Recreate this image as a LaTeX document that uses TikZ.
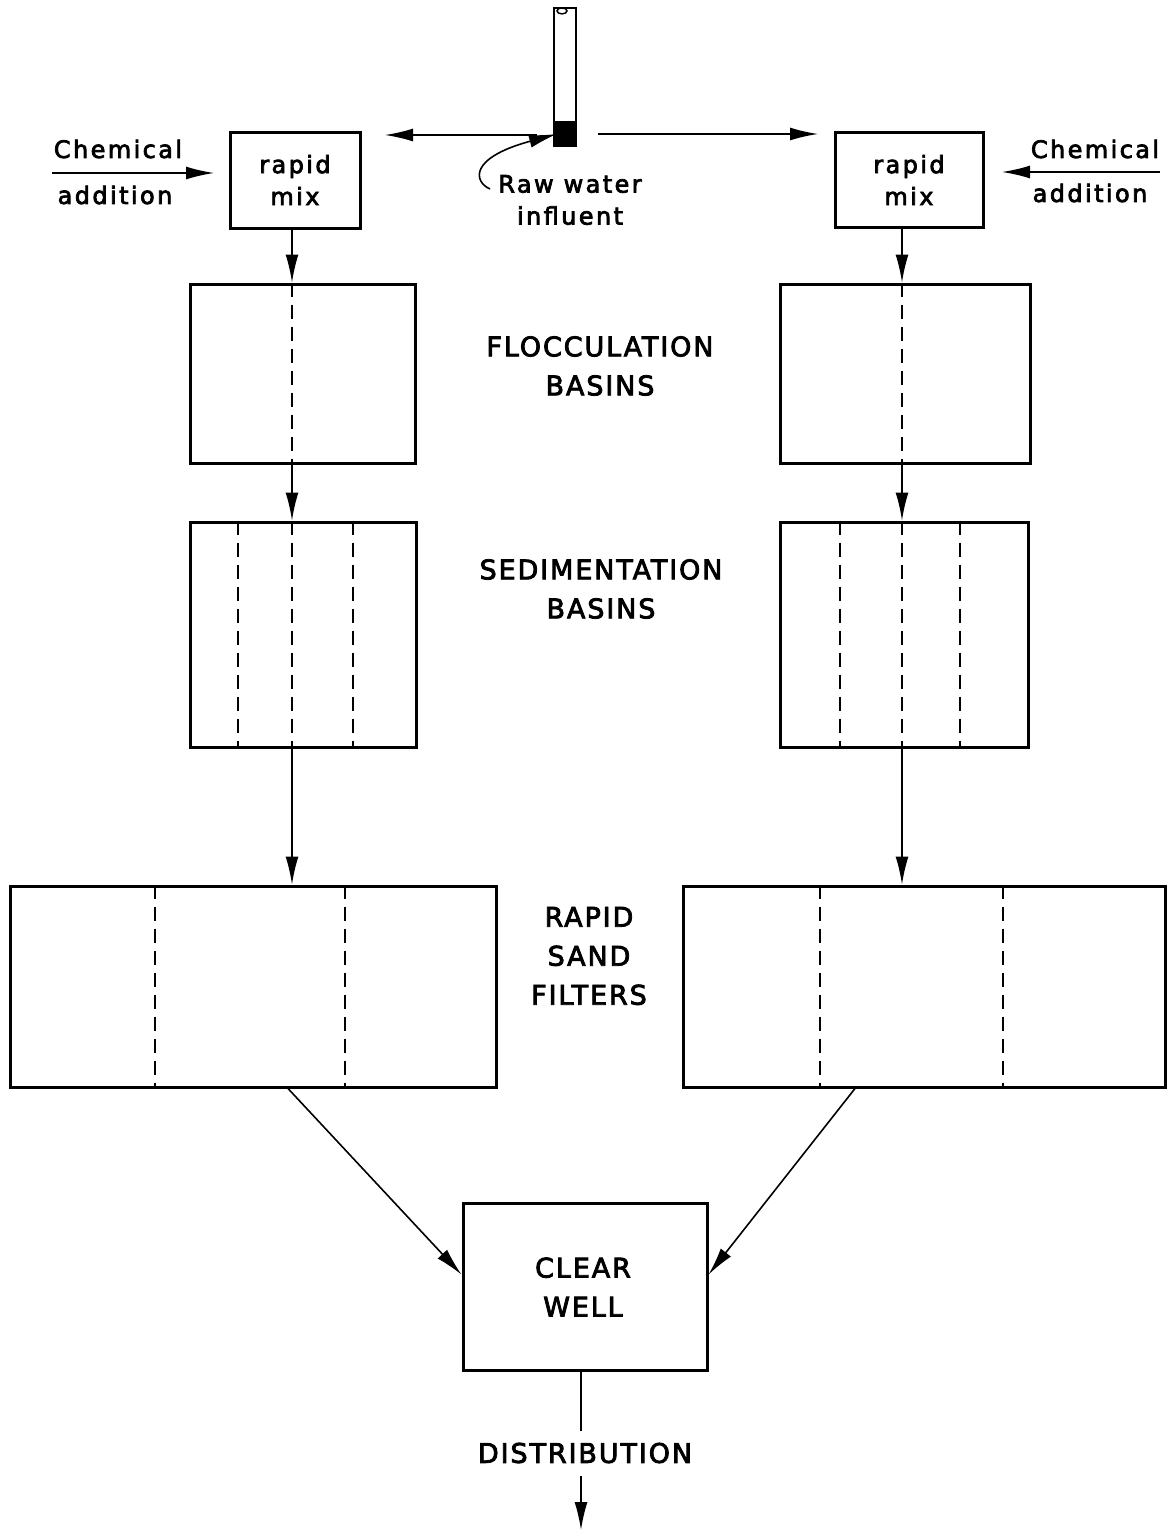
\documentclass[tikz,border=0pt]{standalone}
\usepackage{fontspec}
\setmainfont{DejaVu Sans}
\newfontfamily\lowfont{DejaVu Sans}[LetterSpace=10,FakeBold=3]
\newfontfamily\capfont{DejaVu Sans}[LetterSpace=7,FakeBold=3]
\usetikzlibrary{arrows.meta,calc}
\begin{document}
\begin{tikzpicture}[x=1pt,y=-1pt,
  box/.style={draw, line width=3pt, inner sep=0pt},
  arr/.style={line width=1.6pt, -{Latex[length=28pt,width=13pt]}},
  plain/.style={line width=1.6pt},
  dline/.style={line width=2.2pt, dash pattern=on 14pt off 8pt},
  lowlab/.style={font=\lowfont\fontsize{24}{32}\selectfont, align=center, inner sep=0pt},
  caplab/.style={font=\capfont\fontsize{27}{39}\selectfont, align=center, inner sep=0pt}]
\useasboundingbox (0,0) rectangle (1167,1531);

% pipe
\node[draw, line width=2.2pt, minimum width=22pt, minimum height=138pt, inner sep=0pt] (pipe) at (565,77) {};
\fill ([xshift=1pt]pipe.south west) rectangle ($(pipe.south east)+(-1,-26)$);
\draw[line width=1.5pt] ($(pipe.north)+(-3,4)$) ellipse (5pt and 3pt);

% rapid mix boxes
\node[box, minimum width=130pt, minimum height=96pt] (rm1) at (295,180) {};
\node[lowlab] at (rm1) {rapid\\mix};
\node[box, minimum width=148pt, minimum height=95pt] (rm2) at (909,180) {};
\node[lowlab] at (rm2) {rapid\\mix};

% chemical addition
\node[lowlab] (ch1) at (118,149) {Chemical};
\node[lowlab] (ad1) at (115,195) {addition};
\coordinate (c1s) at (52,173);
\coordinate (c1e) at (214,173);
\draw[arr] (c1s) -- (c1e);
\node[lowlab] (ch2) at (1095,149) {Chemical};
\node[lowlab] (ad2) at (1090,193) {addition};
\coordinate (c2s) at (1160,172);
\coordinate (c2e) at (1002,172);
\draw[arr] (c2s) -- (c2e);

% raw water
\node[lowlab] (raw) at (570,200) {Raw water\\influent};
\coordinate (pl) at (537,135);
\coordinate (plend) at (385,135);
\coordinate (pr) at (598,134);
\coordinate (prend) at (818,134);
\draw[arr] (pl) -- (plend);
\draw[arr] (pr) -- (prend);
\coordinate (rw1) at (490,189);
\coordinate (rw2) at (557,134);
\draw[arr] (rw1) .. controls (474,182) and (468,158) .. (rw2);

% flocculation
\node[box, minimum width=225pt, minimum height=179pt] (fl1) at (302.5,373.5) {};
\node[box, minimum width=250pt, minimum height=179pt] (fl2) at (905,373.5) {};
\node[caplab] (fllab) at (600,366) {FLOCCULATION\\BASINS};

% sedimentation
\node[box, minimum width=226pt, minimum height=225pt] (sd1) at (303,634.5) {};
\node[box, minimum width=248pt, minimum height=225pt] (sd2) at (904,634.5) {};
\node[caplab] (sdlab) at (601,589) {SEDIMENTATION\\BASINS};

% filters
\node[box, minimum width=486pt, minimum height=201pt] (fi1) at (253,986.5) {};
\node[box, minimum width=482pt, minimum height=201pt] (fi2) at (924,986.5) {};
\node[caplab] (filab) at (589,956) {RAPID\\SAND\\FILTERS};

% clear well
\node[box, minimum width=244pt, minimum height=167pt] (cw) at (585,1286.5) {};
\node[caplab] at (583,1287) {CLEAR\\WELL};

% vertical flow lines
\coordinate (xl) at (292,0);
\coordinate (xr) at (902,0);
\draw[arr] (rm1.south -| xl) -- (fl1.north -| xl);
\draw[arr] (rm2.south -| xr) -- (fl2.north -| xr);
\draw[arr] (fl1.south -| xl) -- (sd1.north -| xl);
\draw[arr] (fl2.south -| xr) -- (sd2.north -| xr);
\draw[arr] (sd1.south -| xl) -- (fi1.north -| xl);
\draw[arr] (sd2.south -| xr) -- (fi2.north -| xr);

% dashed internal lines
\draw[dline] (fl1.north -| xl) -- (fl1.south -| xl);
\draw[dline] (fl2.north -| xr) -- (fl2.south -| xr);
\foreach \x in {238,292,353} \draw[dline] (sd1.north -| \x,0) -- (sd1.south -| \x,0);
\foreach \x in {840,902,960} \draw[dline] (sd2.north -| \x,0) -- (sd2.south -| \x,0);
\foreach \x in {155,345} \draw[dline] (fi1.north -| \x,0) -- (fi1.south -| \x,0);
\foreach \x in {820,1003} \draw[dline] (fi2.north -| \x,0) -- (fi2.south -| \x,0);

% to clear well
\draw[arr] (fi1.south -| 288,0) -- ($(cw.north west)!0.43!(cw.south west)$);
\draw[arr] (fi2.south -| 855,0) -- ($(cw.north east)!0.43!(cw.south east)$);

% distribution
\node[caplab] (dist) at (585,1453) {DISTRIBUTION};
\coordinate (d1) at (581,1431);
\coordinate (d2) at (581,1476);
\coordinate (de) at (581,1530);
\draw[plain] (cw.south -| d1) -- (d1);
\draw[arr] (d2) -- (de);
\end{tikzpicture}
\end{document}
